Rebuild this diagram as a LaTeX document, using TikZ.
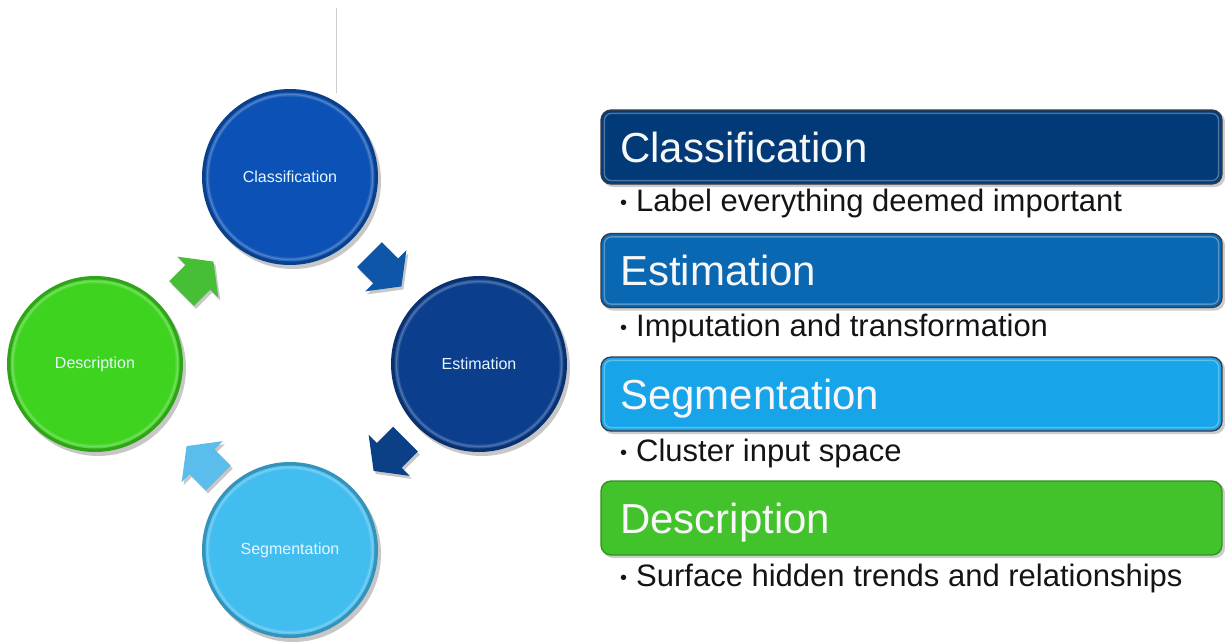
\documentclass[tikz,border=0pt]{standalone}
\usepackage{fontspec}
\setmainfont{Liberation Sans}
\usetikzlibrary{calc}

% palette
\definecolor{clsC}{RGB}{12,82,182}
\definecolor{estC}{RGB}{11,63,142}
\definecolor{segC}{RGB}{66,189,239}
\definecolor{dscC}{RGB}{62,211,31}
\definecolor{arrA}{RGB}{13,86,168}
\definecolor{arrB}{RGB}{11,63,134}
\definecolor{arrC}{RGB}{91,189,235}
\definecolor{arrD}{RGB}{70,191,54}
\definecolor{boxA}{RGB}{2,58,120}
\definecolor{boxB}{RGB}{10,103,178}
\definecolor{boxC}{RGB}{24,164,232}
\definecolor{boxD}{RGB}{66,194,43}
\definecolor{rimgray}{RGB}{58,58,62}
\definecolor{bodytext}{RGB}{20,20,20}

% bevelled disc behind a ring label
\newcommand\ringdisc[2]{%
  \fill[black,opacity=0.22] ($(#1)+(3,4)$) circle[radius=88];
  \fill[#2!78!black] (#1) circle[radius=88];
  \fill[#2!88!white] (#1) circle[radius=84.5];
  \fill[#2] (#1) circle[radius=80.5];
  \draw[white,opacity=0.18,line width=1.2pt] (#1) circle[radius=82.5];
}

% stubby block arrow: centre, direction, colour
\newcommand\ringarrow[3]{%
  \fill[black,opacity=0.22,shift={($#1+(2,3)$)},rotate=#2]
    (-22.5,-17.5) -- (0.5,-17.5) -- (0.5,-29) -- (22.5,0) -- (0.5,29) -- (0.5,17.5) -- (-22.5,17.5) -- cycle;
  \fill[#3,shift={#1},rotate=#2]
    (-22.5,-17.5) -- (0.5,-17.5) -- (0.5,-29) -- (22.5,0) -- (0.5,29) -- (0.5,17.5) -- (-22.5,17.5) -- cycle;
}

% small list bullet
\newcommand\listdot{\makebox[17pt][l]{\hspace{1pt}\raisebox{1.5pt}{\fontsize{20}{20}\selectfont •}}}

\begin{document}
\begin{tikzpicture}[x=1pt,y=-1pt,
  ringlabel/.style={circle,minimum size=176pt,inner sep=0pt,
    text=white!90!cyan,font=\fontsize{16}{18}\selectfont},
  headbox/.style={rounded corners=10pt,minimum width=621pt,minimum height=74pt,
    inner sep=0pt,draw=rimgray,line width=1.3pt},
  headtext/.style={anchor=base west,inner sep=0pt,text=white!94!gray,
    font=\fontsize{42}{46}\selectfont},
  bullettext/.style={anchor=base west,inner sep=0pt,text=bodytext,
    font=\fontsize{31}{34}\selectfont},
  gloss/.style={rounded corners=7pt,draw=white,opacity=0.3,line width=1.4pt}]
\useasboundingbox (0,0) rectangle (1225,641);
\fill[white] (0,0) rectangle (1225,641);

% thin rule at the top
\coordinate (ruletop) at (336,8);
\coordinate (rulebot) at (336,93);
\draw[black!20,line width=0.9pt] (ruletop) -- (rulebot);

% ring of four stages
\coordinate (pcls) at (290,177);
\coordinate (pest) at (479,364);
\coordinate (pseg) at (290,550);
\coordinate (pdsc) at (95,364);

\ringdisc{pcls}{clsC}
\ringdisc{pest}{estC}
\ringdisc{pseg}{segC}
\ringdisc{pdsc}{dscC}

\node[ringlabel] (cls) at (pcls) {Classification};
\node[ringlabel] (est) at (pest) {Estimation};
\node[ringlabel] (seg) at (pseg) {Segmentation};
\node[ringlabel] (dsc) at (pdsc) {Description};

% arrows between consecutive stages
\ringarrow{($(cls)!0.5!(est)+(1,0)$)}{-45}{arrA}
\ringarrow{($(est)!0.5!(seg)+(5,-2)$)}{-135}{arrB}
\ringarrow{($(seg)!0.5!(dsc)+(10,5)$)}{135}{arrC}
\ringarrow{($(dsc)!0.5!(cls)+(5,7)$)}{45}{arrD}

% headline bars
\foreach \yy in {147,270.5,394,518}{
  \fill[black,opacity=0.2,rounded corners=10pt] (603,\yy-35) rectangle (1225,\yy+40);
}
\node[headbox,fill=boxA] (bcls) at (911.5,147) {};
\node[headbox,fill=boxB] (best) at (911.5,270.5) {};
\node[headbox,fill=boxC] (bseg) at (911.5,394) {};
\node[headbox,fill=boxD,draw=boxD!75!black] (bdsc) at (911.5,518) {};
\foreach \b in {bcls,best,bseg}{
  \draw[gloss] ($(\b.north west)+(4,4)$) rectangle ($(\b.south east)+(-4,-4)$);
}

\node[headtext] (tcls) at (620,162) {Classification};
\node[headtext] (test) at (620,285.5) {Estimation};
\node[headtext] (tseg) at (620,409) {Segmentation};
\node[headtext] (tdsc) at (620,533) {Description};

\node[bullettext] (lcls) at (619,211) {\listdot Label everything deemed important};
\node[bullettext] (lest) at (619,336) {\listdot Imputation and transformation};
\node[bullettext] (lseg) at (619,461) {\listdot Cluster input space};
\node[bullettext] (ldsc) at (619,586) {\listdot Surface hidden trends and relationships};
\end{tikzpicture}
\end{document}
